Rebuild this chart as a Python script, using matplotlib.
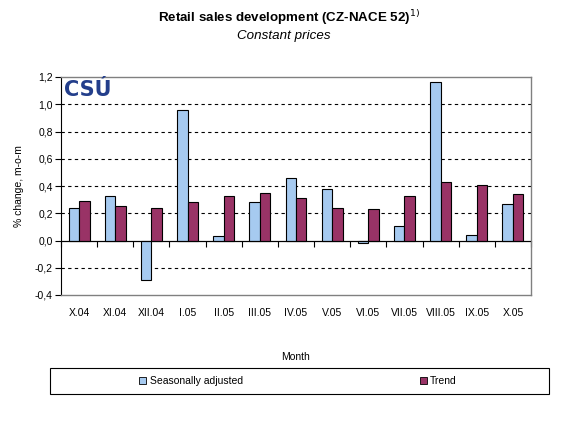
import matplotlib

matplotlib.use("Agg")
import matplotlib.pyplot as plt
import numpy as np
from matplotlib.patches import Patch, Rectangle

plt.rcParams["font.family"] = ["Liberation Sans", "DejaVu Sans"]

months = ["X.04", "XI.04", "XII.04", "I.05", "II.05", "III.05", "IV.05",
          "V.05", "VI.05", "VII.05", "VIII.05", "IX.05", "X.05"]
seasonally_adjusted = [0.24, 0.33, -0.29, 0.96, 0.03, 0.28, 0.46,
                       0.38, -0.02, 0.11, 1.16, 0.04, 0.27]
trend = [0.29, 0.25, 0.24, 0.28, 0.33, 0.35, 0.31,
         0.24, 0.23, 0.33, 0.43, 0.41, 0.34]
y_ticks = [-0.4, -0.2, 0.0, 0.2, 0.4, 0.6, 0.8, 1.0, 1.2]

SA_COLOR = "#A6CAF0"
TREND_COLOR = "#993366"

fig = plt.figure(figsize=(5.77, 4.28), dpi=100)
ax = fig.add_axes([61 / 577, 133 / 428, 470 / 577, 218 / 428])

x = np.arange(len(months))
width = 0.29
ax.bar(x - width / 2, seasonally_adjusted, width, color=SA_COLOR,
       edgecolor="black", linewidth=0.8, zorder=3)
ax.bar(x + width / 2, trend, width, color=TREND_COLOR,
       edgecolor="black", linewidth=0.8, zorder=3)

ax.set_xlim(-0.5, len(months) - 0.5)
ax.set_ylim(y_ticks[0], y_ticks[-1])
ax.set_yticks(y_ticks)
ax.set_yticklabels([f"{v:.1f}".replace(".", ",") for v in y_ticks], fontsize=7.5)
ax.set_xticks(x)
ax.set_xticklabels(months, fontsize=7.5)
ax.tick_params(axis="x", length=0, pad=9)
ax.tick_params(axis="y", direction="out", length=4, width=0.8, pad=2)

# dashed gridlines on the inner ticks only
for v in y_ticks[1:-1]:
    if v != 0:
        ax.axhline(v, color="black", linestyle=(0, (3, 3)), linewidth=0.8, zorder=1)

for side in ["top", "right", "bottom"]:
    ax.spines[side].set_color("#808080")
    ax.spines[side].set_linewidth(1.0)
ax.spines["left"].set_color("black")
ax.spines["left"].set_linewidth(0.8)

# category axis crossing at zero, with ticks between categories
zero_pos = (0 - y_ticks[0]) / (y_ticks[-1] - y_ticks[0])
sec = ax.secondary_xaxis(zero_pos)
sec.set_xticks(np.arange(len(months) + 1) - 0.5)
sec.tick_params(direction="out", length=4, width=0.8, labelbottom=False, labeltop=False)
sec.spines["bottom"].set_linewidth(0.8)
sec.spines["bottom"].set_color("black")
ax.axhline(0, color="black", linewidth=0.8, zorder=4)

ax.set_ylabel("% change, m-o-m", fontsize=7.5, labelpad=8)

# logo
ax.text(0.006, 0.985, "CSÚ", transform=ax.transAxes, ha="left", va="top",
        fontsize=15, fontweight="heavy", color="#233E8B",
        family="DejaVu Sans", zorder=5)

fig.text(296 / 577, 1 - 357 / 428, "Month", ha="center", va="center", fontsize=7.5)
fig.text(289 / 577, 1 - 18 / 428, "Retail sales development (CZ-NACE 52)$^{1)}$",
         ha="center", va="center", fontsize=9.6, fontweight="bold")
fig.text(284 / 577, 1 - 36 / 428, "Constant prices", ha="center", va="center",
         fontsize=9.6, style="italic")

fig.patches.append(Rectangle((50 / 577, 34 / 428), 499 / 577, 26 / 428,
                             transform=fig.transFigure, fill=False,
                             edgecolor="black", linewidth=0.8))
handles = [Patch(facecolor=SA_COLOR, edgecolor="black", linewidth=0.6,
                 label="Seasonally adjusted"),
           Patch(facecolor=TREND_COLOR, edgecolor="black", linewidth=0.6,
                 label="Trend")]
fig.legend(handles=handles, loc="center", bbox_to_anchor=(298 / 577, 1 - 381 / 428),
           ncol=2, frameon=False, fontsize=7.5, handlelength=0.7,
           handleheight=0.7, handletextpad=0.3, columnspacing=17)

fig.savefig("out.png", dpi=100)
plt.close(fig)
